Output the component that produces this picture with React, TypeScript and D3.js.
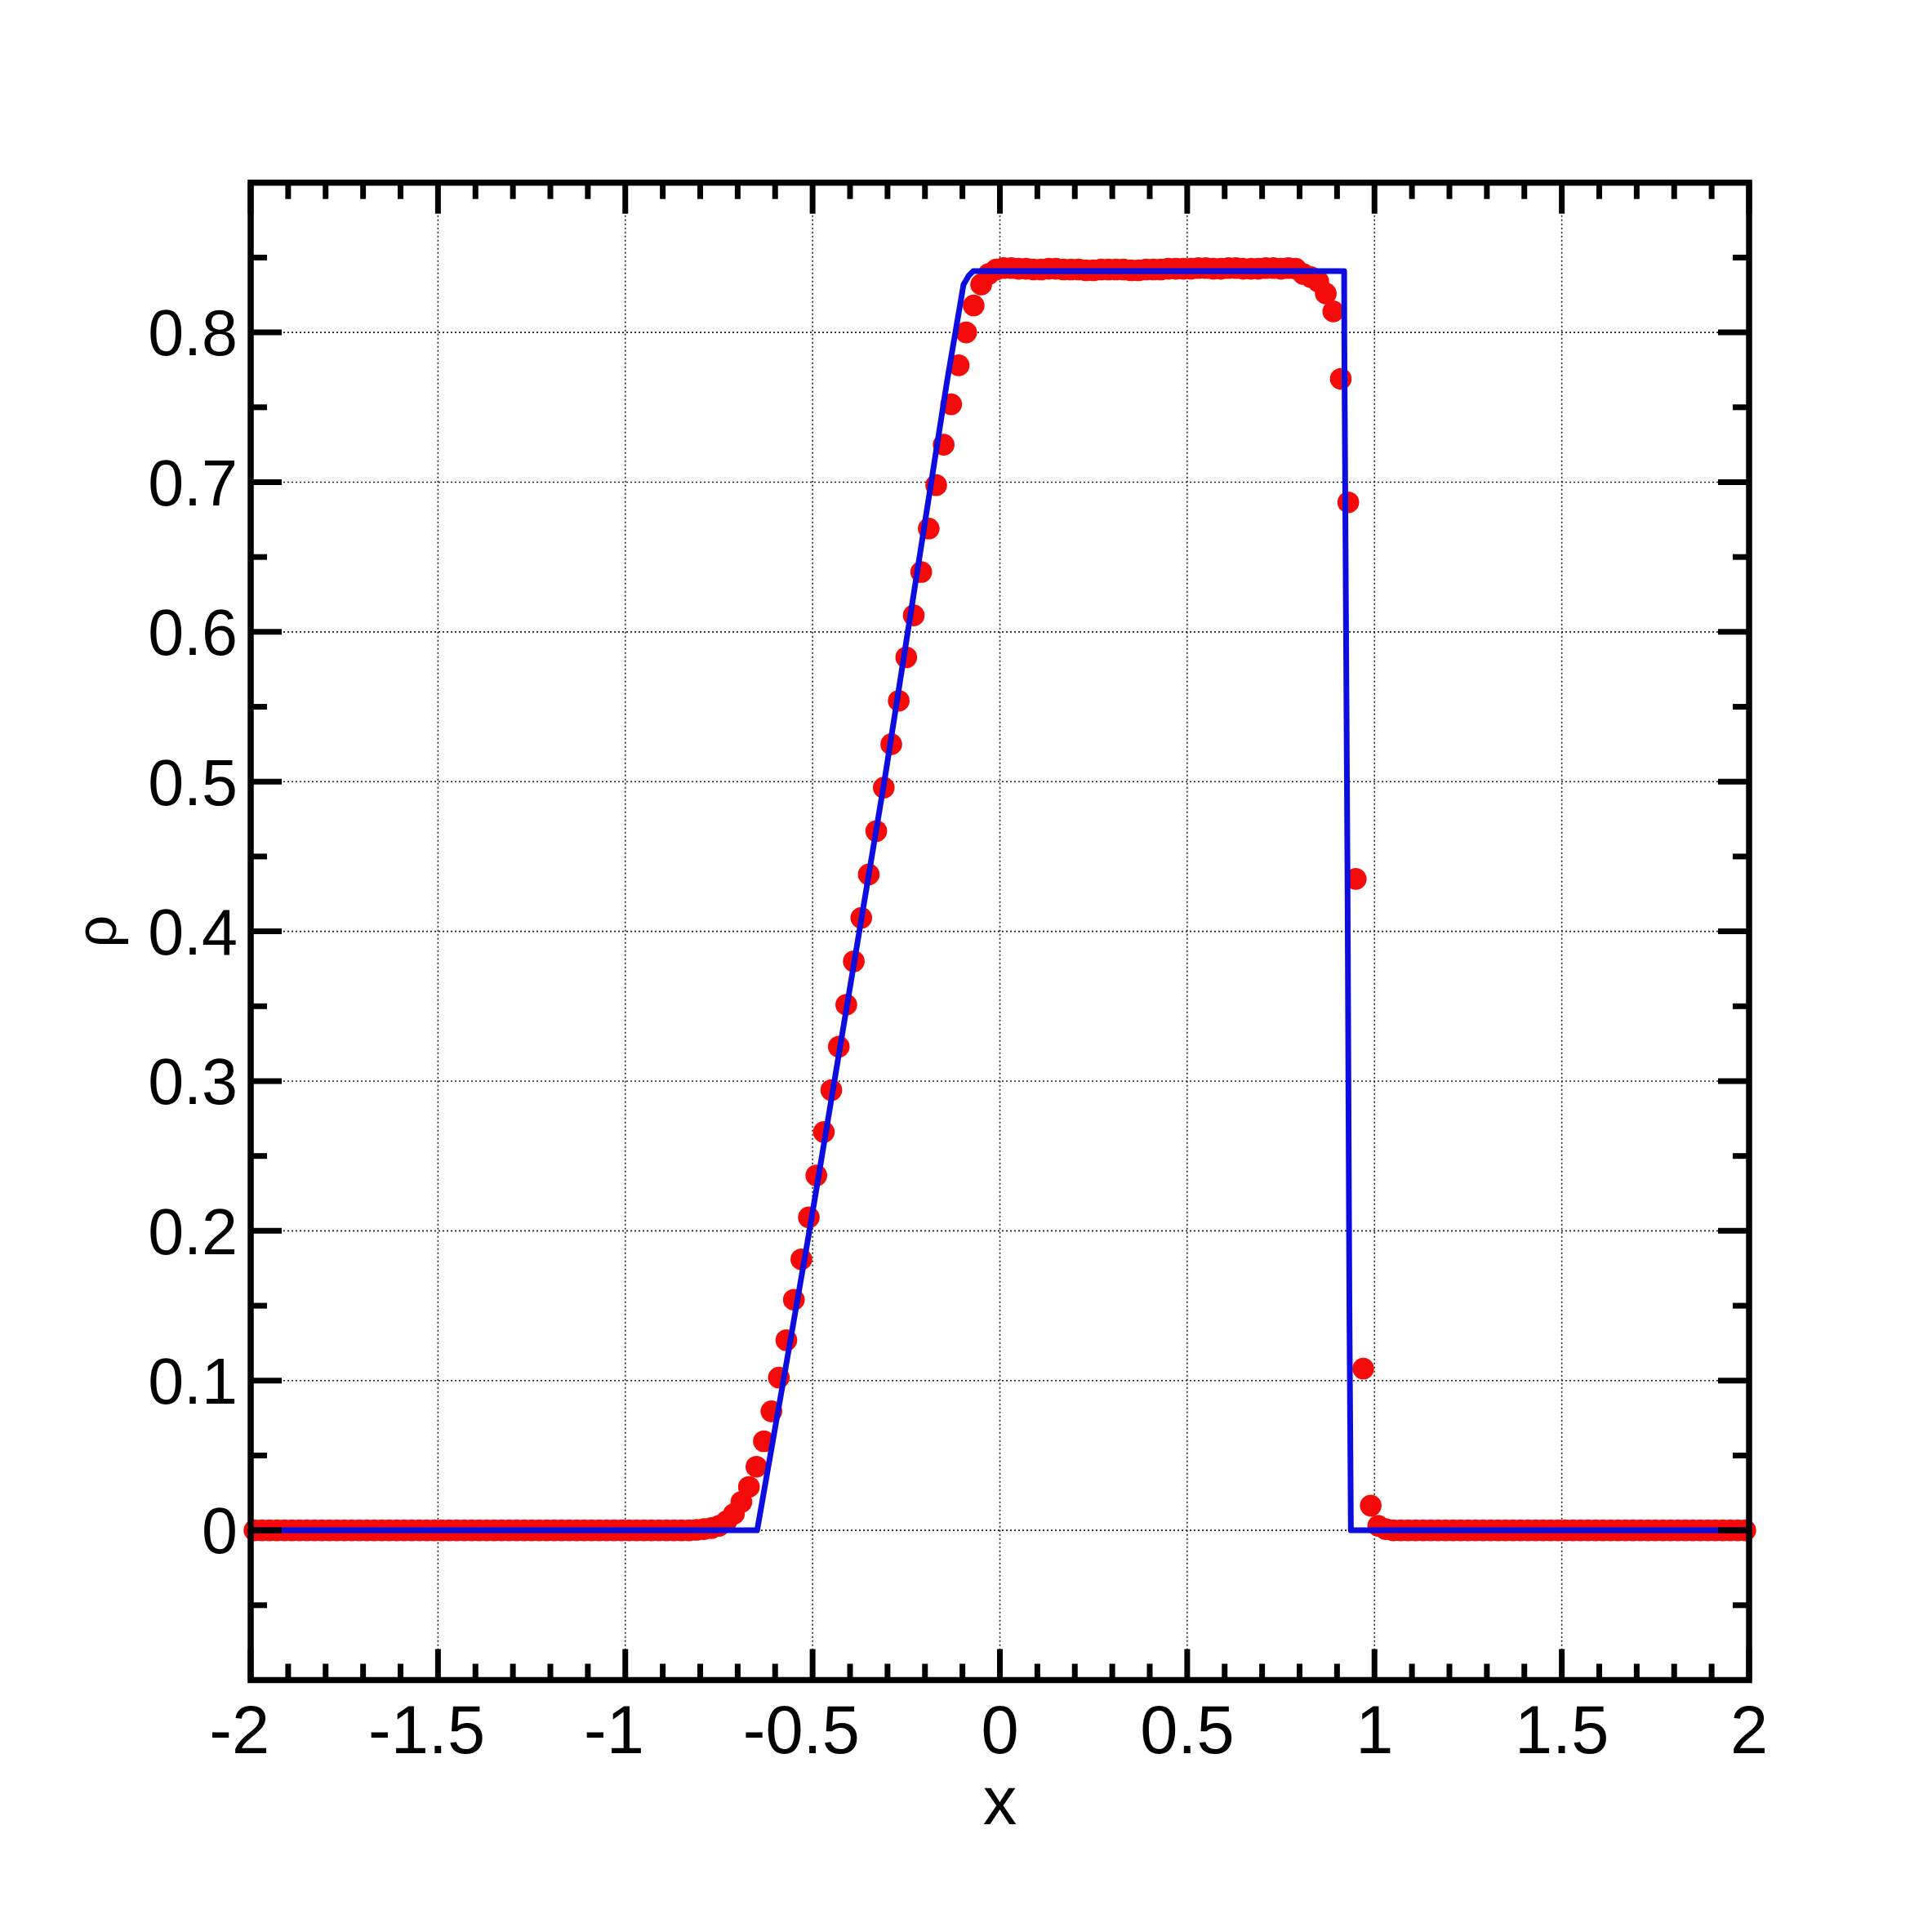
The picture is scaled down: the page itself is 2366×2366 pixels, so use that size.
import React from "react";
import * as d3 from "d3";

// ---------- data ----------
const X_DOMAIN = [-2, 2];
const Y_DOMAIN = [-0.1, 0.9];

const X_MAJOR_TICKS = [-2, -1.5, -1, -0.5, 0, 0.5, 1, 1.5, 2];
const X_TICK_LABELS = ["-2", "-1.5", "-1", "-0.5", "0", "0.5", "1", "1.5", "2"];
const Y_MAJOR_TICKS = [0, 0.1, 0.2, 0.3, 0.4, 0.5, 0.6, 0.7, 0.8];
const Y_TICK_LABELS = ["0", "0.1", "0.2", "0.3", "0.4", "0.5", "0.6", "0.7", "0.8"];
const Y_MINOR_TICKS = [-0.05, 0.05, 0.15, 0.25, 0.35, 0.45, 0.55, 0.65, 0.75, 0.85];

// numerical solution: 200 cells on [-2, 2], values at cell centres
const CELL_CENTERS = d3.range(200).map((i) => +(-1.99 + 0.02 * i).toFixed(2));
const RHO_NUMERICAL = [
  0, 0, 0, 0, 0, 0, 0, 0, 0, 0,
  0, 0, 0, 0, 0, 0, 0, 0, 0, 0,
  0, 0, 0, 0, 0, 0, 0, 0, 0, 0,
  0, 0, 0, 0, 0, 0, 0, 0, 0, 0,
  0, 0, 0, 0, 0, 0, 0, 0, 0, 0,
  0, 0, 0, 0, 0, 0, 0, 0, 0, 0.0003,
  0.0008, 0.0015, 0.003, 0.006, 0.011, 0.019, 0.029, 0.0425, 0.0595, 0.0795,
  0.102, 0.127, 0.154, 0.181, 0.209, 0.237, 0.266, 0.294, 0.323, 0.351,
  0.38, 0.409, 0.438, 0.467, 0.496, 0.525, 0.554, 0.583, 0.611, 0.64,
  0.669, 0.698, 0.725, 0.752, 0.778, 0.8, 0.818, 0.832, 0.839, 0.842,
  0.843, 0.843, 0.8425, 0.8425, 0.842, 0.842, 0.8425, 0.8425, 0.842, 0.842,
  0.842, 0.8415, 0.8415, 0.842, 0.842, 0.842, 0.842, 0.8415, 0.8415, 0.842,
  0.842, 0.842, 0.8425, 0.8425, 0.8425, 0.8425, 0.843, 0.843, 0.8425, 0.8425,
  0.843, 0.843, 0.8425, 0.8425, 0.8425, 0.843, 0.843, 0.8425, 0.843, 0.8425,
  0.839, 0.837, 0.834, 0.826, 0.814, 0.769, 0.6865, 0.435, 0.108, 0.0165,
  0.003, 0.0008, 0, 0, 0, 0, 0, 0, 0, 0,
  0, 0, 0, 0, 0, 0, 0, 0, 0, 0,
  0, 0, 0, 0, 0, 0, 0, 0, 0, 0,
  0, 0, 0, 0, 0, 0, 0, 0, 0, 0,
  0, 0, 0, 0, 0, 0, 0, 0, 0, 0,
];

// exact solution (blue line)
const EXACT_X = [-2, -0.648, -0.58, -0.505, -0.306, -0.14, -0.097, -0.083, -0.071, 0.919, 0.9195, 0.928, 0.933, 0.937, 2];
const EXACT_Y = [0, 0, 0.097, 0.205, 0.504, 0.769, 0.832, 0.838, 0.8409, 0.8409, 0.795, 0.435, 0.15, 0, 0];

// ---------- layout ----------
const W = 2366;
const H = 2366;
const LEFT = 307;
const RIGHT = 2142;
const TOP = 223.7;
const BOTTOM = 2057.5;
const FONT = "'Liberation Sans', Arial, Helvetica, sans-serif";
const FS_X = 83;
const FS_Y = 79;

export default function App() {
  const x = d3.scaleLinear().domain(X_DOMAIN).range([LEFT, RIGHT]);
  const y = d3.scaleLinear().domain(Y_DOMAIN).range([BOTTOM, TOP]);

  const xMinor = d3
    .range(-19, 20)
    .map((k) => k / 10)
    .filter((v) => Math.abs(v * 2 - Math.round(v * 2)) > 1e-6);

  const exactLine = d3
    .line<number>()
    .x((_, i) => x(EXACT_X[i]))
    .y((d) => y(d))(EXACT_Y) as string;

  const points = CELL_CENTERS.map((cx, i) => ({ cx, cy: RHO_NUMERICAL[i] }));

  const majLen = 38;
  const minLen = 20;
  const tickW = 7;

  const numWidth = (s: string) => {
    let w = 0;
    for (const ch of s) w += ch === "." ? 0.278 : 0.556;
    return w * FS_X;
  };

  return (
    <svg
      width={W}
      height={H}
      viewBox={`0 0 ${W} ${H}`}
      style={{ position: "absolute", left: 0, top: 0, background: "#fff" }}
      fontFamily={FONT}
    >
      <rect x={0} y={0} width={W} height={H} fill="#fff" />
      {/* grid */}
      <g stroke="#222" strokeWidth={1.6} strokeDasharray="2 3">
        {X_MAJOR_TICKS.slice(1, -1).map((v) => (
          <line key={"gx" + v} x1={x(v)} x2={x(v)} y1={TOP} y2={BOTTOM} />
        ))}
        {Y_MAJOR_TICKS.map((v) => (
          <line key={"gy" + v} x1={LEFT} x2={RIGHT} y1={y(v)} y2={y(v)} />
        ))}
      </g>

      {/* numerical solution */}
      <g fill="#f50a0a">
        {points.map((p, i) => (
          <circle key={i} cx={x(p.cx)} cy={y(p.cy)} r={13.3} />
        ))}
      </g>

      {/* exact solution */}
      <path d={exactLine} fill="none" stroke="#0d0de0" strokeWidth={7} strokeLinejoin="round" />

      {/* ticks */}
      <g stroke="#000" strokeWidth={tickW}>
        {X_MAJOR_TICKS.map((v) => (
          <g key={"xt" + v}>
            <line x1={x(v)} x2={x(v)} y1={BOTTOM} y2={BOTTOM - majLen} />
            <line x1={x(v)} x2={x(v)} y1={TOP} y2={TOP + majLen} />
          </g>
        ))}
        {xMinor.map((v) => (
          <g key={"xm" + v}>
            <line x1={x(v)} x2={x(v)} y1={BOTTOM} y2={BOTTOM - minLen} />
            <line x1={x(v)} x2={x(v)} y1={TOP} y2={TOP + minLen} />
          </g>
        ))}
        {Y_MAJOR_TICKS.map((v) => (
          <g key={"yt" + v}>
            <line x1={LEFT} x2={LEFT + majLen} y1={y(v)} y2={y(v)} />
            <line x1={RIGHT} x2={RIGHT - majLen} y1={y(v)} y2={y(v)} />
          </g>
        ))}
        {Y_MINOR_TICKS.map((v) => (
          <g key={"ym" + v}>
            <line x1={LEFT} x2={LEFT + minLen} y1={y(v)} y2={y(v)} />
            <line x1={RIGHT} x2={RIGHT - minLen} y1={y(v)} y2={y(v)} />
          </g>
        ))}
      </g>

      {/* frame */}
      <rect x={LEFT} y={TOP} width={RIGHT - LEFT} height={BOTTOM - TOP} fill="none" stroke="#000" strokeWidth={7.5} />

      {/* tick labels */}
      <g fill="#000">
        {X_MAJOR_TICKS.map((v, i) => {
          const lab = X_TICK_LABELS[i];
          const num = lab.replace("-", "");
          return (
            <text key={"xl" + v} x={x(v) + numWidth(num) / 2} y={2147} textAnchor="end" fontSize={FS_X}>
              {lab}
            </text>
          );
        })}
        {Y_MAJOR_TICKS.map((v, i) => (
          <text key={"yl" + v} x={291} y={y(v) + FS_Y * 0.358} textAnchor="end" fontSize={FS_Y}>
            {Y_TICK_LABELS[i]}
          </text>
        ))}
      </g>

      {/* axis titles */}
      <text x={(LEFT + RIGHT) / 2} y={2234} fontSize={FS_X} textAnchor="middle">
        x
      </text>
      <text transform={`translate(142, ${(TOP + BOTTOM) / 2}) rotate(-90)`} fontSize={70} textAnchor="middle">
        ρ
      </text>
    </svg>
  );
}
